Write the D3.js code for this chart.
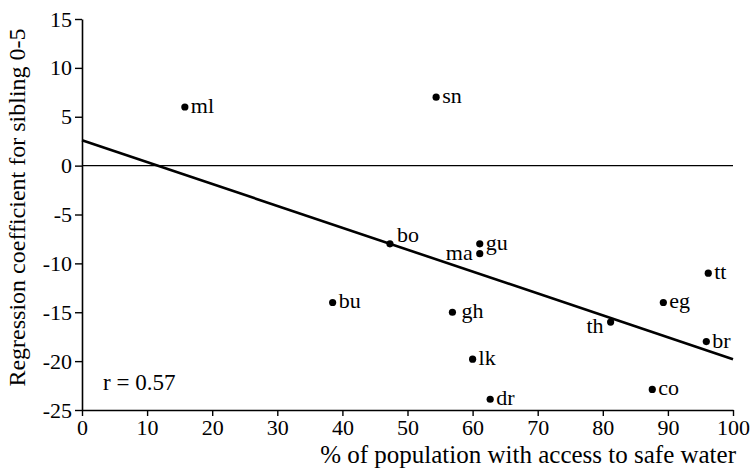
<!DOCTYPE html>
<html><head><meta charset="utf-8">
<script src="https://cdn.jsdelivr.net/npm/d3@7"></script>
<style>body{margin:0;background:#fff}svg{display:block}svg text{font-family:'Liberation Serif' !important}</style>
</head><body><svg id="c" width="750" height="470"></svg>
<script>
const codes = ["ml","sn","bo","gu","ma","tt","bu","eg","gh","th","br","lk","co","dr"];
const waterAccess = [15.8,54.4,47.3,61.1,61.1,96.2,38.5,89.3,56.9,81.2,95.9,60.0,87.6,62.7];
const coefficient = [6.0,7.0,-8.0,-8.0,-9.0,-11.0,-14.0,-14.0,-15.0,-16.0,-18.0,-19.8,-22.9,-23.9];
const xTicks = [0,10,20,30,40,50,60,70,80,90,100];
const yTicks = [15,10,5,0,-5,-10,-15,-20,-25];
const fitLine = [[0,2.6],[100,-19.8]];
const rLabel = "r = 0.57";
const xTitle = "% of population with access to safe water";
const yTitle = "Regression coefficient for sibling 0-5";

const FF = "'Liberation Serif'";
const svg = d3.select("#c");
const x = d3.scaleLinear().domain([0,100]).range([82,733]);
const y = d3.scaleLinear().domain([-25,15]).range([410,19]);

const xAxis = svg.append("g").attr("transform",`translate(0,${y(-25)})`)
  .call(d3.axisBottom(x).tickValues(xTicks).tickSize(6).tickSizeOuter(0).tickPadding(3).tickFormat(d=>String(d)));
const yAxis = svg.append("g").attr("transform",`translate(${x(0)},0)`)
  .call(d3.axisLeft(y).tickValues(yTicks).tickSize(7).tickSizeOuter(0).tickPadding(3).tickFormat(d=>String(d)));
[xAxis,yAxis].forEach(g=>{
  g.attr("font-family",null).attr("font-size",null);
  g.selectAll(".domain").attr("stroke","#000").attr("stroke-width",1.6);
  g.selectAll(".tick line").attr("stroke","#000").attr("stroke-width",1.4);
  g.selectAll(".tick text").attr("fill","#000").attr("font-family","Liberation Serif").style("font-family",FF).style("font-size","22px");
});

svg.append("line").attr("x1",x(0)).attr("x2",x(100)).attr("y1",y(0)).attr("y2",y(0))
  .attr("stroke","#000").attr("stroke-width",1.3);

svg.append("line").attr("x1",x(fitLine[0][0])).attr("y1",y(fitLine[0][1]))
  .attr("x2",x(fitLine[1][0])).attr("y2",y(fitLine[1][1]))
  .attr("stroke","#000").attr("stroke-width",2.6);

const pts = codes.map((c,i)=>({c, x: waterAccess[i], y: coefficient[i]}));
svg.selectAll("circle.p").data(pts).enter().append("circle")
  .attr("cx",d=>x(d.x)).attr("cy",d=>y(d.y)).attr("r",3.6).attr("fill","#000");

const place = {bo:[7,-2,"start"], ma:[-7,6,"end"], th:[-7,11,"end"], gh:[9,6,"start"]};
svg.selectAll("text.lab").data(pts).enter().append("text")
  .attr("x",d=>x(d.x)+(place[d.c]?place[d.c][0]:6))
  .attr("y",d=>y(d.y)+(place[d.c]?place[d.c][1]:6))
  .attr("text-anchor",d=>place[d.c]?place[d.c][2]:"start")
  .attr("font-family","Liberation Serif").style("font-family",FF).style("font-size","22px").text(d=>d.c);

svg.append("text").attr("x",103).attr("y",390).style("font-family",FF).style("font-size","23px").text(rLabel);
svg.append("text").attr("x",736).attr("y",463).attr("text-anchor","end").style("font-family",FF).style("font-size","25px").text(xTitle);
svg.append("text").attr("transform",`translate(25,${(23+392)/2}) rotate(-90)`).attr("text-anchor","middle")
  .style("font-family",FF).style("font-size","24px").text(yTitle);
</script></body></html>
